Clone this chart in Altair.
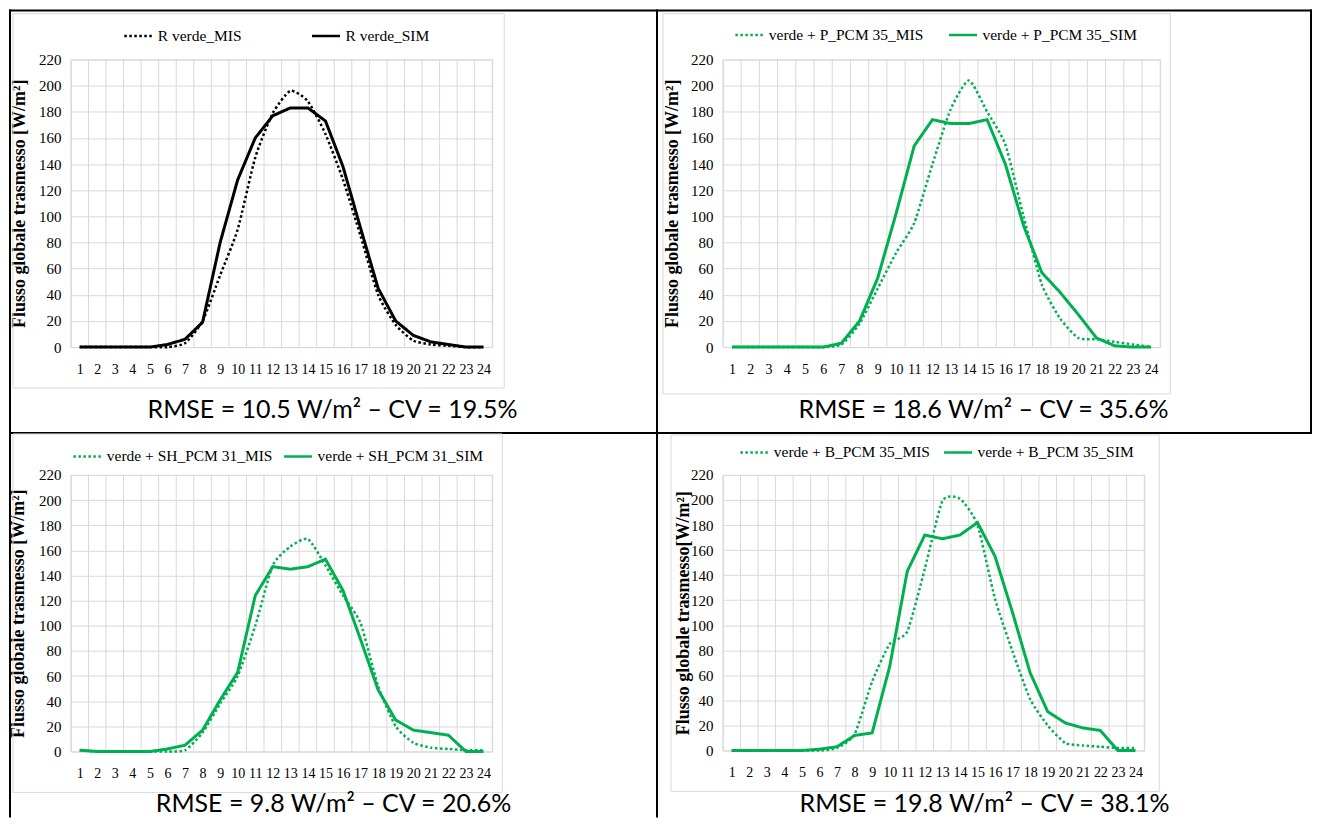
import altair as alt
import pandas as pd

# ---------------- data ----------------
hours = list(range(1, 25))

r_mis = [0, 0, 0, 0, 0, 0, 3, 20, 55, 90, 145, 179, 196, 188, 163, 128, 85, 40, 17, 5, 2, 1, 0, 0]
r_sim = [0, 0, 0, 0, 0, 2, 6, 19, 80, 128, 160, 177, 183, 183, 173, 138, 91, 45, 20, 9, 4, 2, 0, 0]

p_mis = [0, 0, 0, 0, 0, 0, 2, 18, 45, 72, 95, 140, 182, 204, 180, 155, 100, 48, 22, 7, 6, 4, 2, 0]
p_sim = [0, 0, 0, 0, 0, 0, 3, 20, 53, 102, 154, 174, 171, 171, 174, 140, 93, 57, 42, 25, 7, 1, 0, 0]

sh_mis = [1, 0, 0, 0, 0, 0, 1, 15, 38, 60, 100, 148, 163, 169, 148, 124, 102, 52, 20, 7, 3, 2, 1, 1]
sh_sim = [1, 0, 0, 0, 0, 2, 5, 17, 41, 63, 124, 147, 145, 147, 153, 128, 89, 49, 25, 17, 15, 13, 0, 0]

b_mis = [0, 0, 0, 0, 0, 0, 2, 13, 55, 85, 95, 145, 199, 201, 180, 121, 79, 41, 20, 6, 4, 3, 2, 2]
b_sim = [0, 0, 0, 0, 0, 1, 3, 12, 14, 67, 143, 172, 169, 172, 182, 155, 110, 62, 31, 22, 18, 16, 0, 0]

labels_mis = ["R verde_MIS", "verde + P_PCM 35_MIS", "verde + SH_PCM 31_MIS", "verde + B_PCM 35_MIS"]
labels_sim = ["R verde_SIM", "verde + P_PCM 35_SIM", "verde + SH_PCM 31_SIM", "verde + B_PCM 35_SIM"]
y_titles = ["Flusso globale trasmesso [W/m²]", "Flusso globale trasmesso [W/m²]",
            "Flusso globale trasmesso [W/m²]", "Flusso globale trasmesso[W/m²]"]
captions = ["RMSE = 10.5 W/m² – CV = 19.5%", "RMSE = 18.6 W/m² – CV = 35.6%",
            "RMSE = 9.8 W/m² – CV = 20.6%", "RMSE = 19.8 W/m² – CV = 38.1%"]
y_ticks = list(range(0, 221, 20))

GREEN = "#00B050"
BLACK = "#000000"
GRID = "#D9D9D9"
SERIF = "Liberation Serif"
CAPFONT = "Lato"

one_row = pd.DataFrame({"k": [0]})


def make_panel(mis, sim, lab_mis, lab_sim, color, ytitle, caption, W, H,
               lg_x, lg_y, lg_pad, cap_x, cap_y, frame, title_x, borders=None):
    df = pd.DataFrame({
        "ora": hours + hours,
        "flusso": mis + sim,
        "serie": [lab_mis] * len(hours) + [lab_sim] * len(hours),
    })
    edges = pd.DataFrame({"e": [h - 0.5 for h in hours] + [hours[-1] + 0.5]})

    xs = alt.Scale(domain=[0.5, 24.5], nice=False, zero=False)
    ys = alt.Scale(domain=[0, 220], nice=False)
    xaxis = alt.Axis(values=hours, grid=False, ticks=False, domain=False, title=None,
                     labelFont=SERIF, labelFontSize=14, labelColor="black",
                     labelPadding=15, labelAngle=0, labelOverlap=False)
    yaxis = alt.Axis(values=y_ticks, grid=True, gridColor=GRID, gridWidth=1,
                     ticks=False, domain=False, title=ytitle,
                     labelFont=SERIF, labelFontSize=15, labelColor="black", labelPadding=10,
                     titleFont=SERIF, titleFontSize=18, titleFontWeight="bold",
                     titleColor="black", titleX=title_x, titleY=H / 2,
                     titleBaseline="middle", titleAlign="center", titleAngle=270)
    leg = alt.Legend(orient="none", legendX=lg_x, legendY=lg_y, direction="horizontal",
                     title=None, symbolType="stroke", symbolSize=784, symbolStrokeWidth=2.5,
                     labelFont=SERIF, labelFontSize=15.5, labelColor="black", labelOffset=4,
                     columnPadding=lg_pad, padding=0, labelLimit=400)
    col = alt.Color("serie:N", scale=alt.Scale(domain=[lab_mis, lab_sim], range=[color, color]),
                    legend=leg)
    dash = alt.StrokeDash("serie:N",
                          scale=alt.Scale(domain=[lab_mis, lab_sim], range=[[2.5, 2.5], [1, 0]]),
                          legend=leg)

    frame_ch = alt.Chart(one_row).mark_rect(fillOpacity=0, stroke=GRID, strokeWidth=1).encode(
        x=alt.value(frame[0]), x2=alt.value(frame[1]), y=alt.value(frame[2]), y2=alt.value(frame[3]))

    vgrid = alt.Chart(edges).mark_rule(color=GRID, strokeWidth=1).encode(
        x=alt.X("e:Q", scale=xs, axis=xaxis))

    mis_line = alt.Chart(df).transform_filter(alt.datum.serie == lab_mis).mark_line(
        interpolate="cardinal", tension=0.4, strokeWidth=2.5).encode(
        x=alt.X("ora:Q", scale=xs, axis=xaxis),
        y=alt.Y("flusso:Q", scale=ys, axis=yaxis),
        color=col, strokeDash=dash)

    sim_line = alt.Chart(df).transform_filter(alt.datum.serie == lab_sim).mark_line(
        strokeWidth=3).encode(
        x=alt.X("ora:Q", scale=xs, axis=xaxis),
        y=alt.Y("flusso:Q", scale=ys, axis=yaxis),
        color=col, strokeDash=dash)

    cap = alt.Chart(one_row).mark_text(text=caption, font=CAPFONT, fontSize=25, align="center",
                                        baseline="alphabetic", color="black").encode(
        x=alt.value(cap_x), y=alt.value(cap_y))

    layers = [frame_ch, vgrid, mis_line, sim_line, cap]
    if borders:
        for (bx, bx2, by, by2) in borders:
            layers.append(alt.Chart(one_row).mark_rect(color="black").encode(
                x=alt.value(bx), x2=alt.value(bx2), y=alt.value(by), y2=alt.value(by2)))
    return alt.layer(*layers).properties(width=W, height=H)


# table borders (filled 2px bars, relative to the first panel's plot area),
# kept inside a 1305 x 809 canvas so the page does not overflow
table_borders = [
    (-62, 1243, -50, -48),   # top
    (-62, -60, -50, 759),    # left
    (586, 588, -50, 759),    # middle vertical
    (-62, 1243, 373, 375),   # middle horizontal
    (1241, 1243, -50, 375),  # right (upper half)
]

p1 = make_panel(r_mis, r_sim, labels_mis[0], labels_sim[0], BLACK, y_titles[0], captions[0],
                422, 288, 52, -39, 65, 262, 359, (-58, 434, -46, 329), -51, table_borders)
p2 = make_panel(p_mis, p_sim, labels_mis[1], labels_sim[1], GREEN, y_titles[1], captions[1],
                438, 288, 11, -40, 20, 261, 359, (-60, 448, -46, 335), -50)
p3 = make_panel(sh_mis, sh_sim, labels_mis[2], labels_sim[2], GREEN, y_titles[2], captions[2],
                422, 277, 1, -34, 6, 263, 338, (-58, 432, -41, 318), -52)
p4 = make_panel(b_mis, b_sim, labels_mis[3], labels_sim[3], GREEN, y_titles[3], captions[3],
                422, 276, 16, -38, 8, 262, 338, (-52, 437, -40, 317), -39)

chart = alt.concat(p1, p2, p3, p4, columns=2, spacing={"row": 128, "column": 231},
                   bounds="flush").resolve_scale(
    x="independent", y="independent", color="independent", strokeDash="independent"
).resolve_legend(color="independent", strokeDash="independent").resolve_axis(
    x="independent", y="independent"
).properties(padding=0, background="white").configure_view(stroke=GRID, strokeWidth=1)

chart.save("out.html", embed_options={"renderer": "svg", "actions": False})
